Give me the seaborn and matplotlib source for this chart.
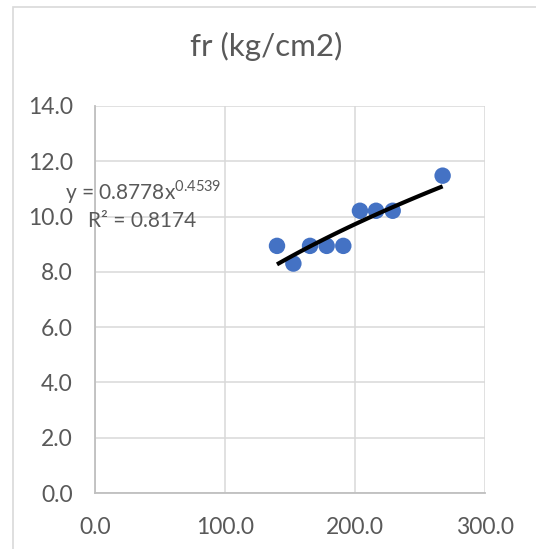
import numpy as np
import pandas as pd
import matplotlib
matplotlib.use("Agg")
import matplotlib.pyplot as plt
import matplotlib.patches as mpatches
import seaborn as sns

# Data
x_vals = [140, 152.6, 165.4, 178.2, 191, 203.8, 216.2, 229, 267.4]
y_vals = [8.94, 8.30, 8.94, 8.94, 8.94, 10.21, 10.21, 10.21, 11.48]
coef_a = 0.8778
coef_b = 0.4539
x_ticks = [0, 100, 200, 300]
y_ticks = [0, 2, 4, 6, 8, 10, 12, 14]
title = "fr (kg/cm2)"
eq_label = r"y = 0.8778x$^{0.4539}$"
r2_label = "R² = 0.8174"

df = pd.DataFrame({"x": x_vals, "y": y_vals})

sns.set_theme(style="white")
plt.rcParams['font.family'] = ['Lato', 'DejaVu Sans']
plt.rcParams['mathtext.fontset'] = 'custom'
plt.rcParams['mathtext.rm'] = 'Lato'

fig = plt.figure(figsize=(5.36, 5.49), dpi=100)
W, H = 536, 549
ax = fig.add_axes([95 / W, 1 - 493 / H, (485 - 95) / W, (493 - 106) / H])

# outer chart border
fig.patches.append(mpatches.Rectangle((13 / W, -0.1), 2, 1 - 7 / H + 0.1,
                                      transform=fig.transFigure, fill=False,
                                      edgecolor="#d9d9d9", linewidth=1.2))

sns.scatterplot(data=df, x="x", y="y", ax=ax, color="#4472C4", s=140,
                edgecolor="none", zorder=3)

# power trendline
xt = np.linspace(min(x_vals), max(x_vals), 100)
ax.plot(xt, coef_a * xt ** coef_b, color="black", linewidth=3, zorder=4,
        solid_capstyle="butt")

ax.set_xlim(0, 300)
ax.set_ylim(0, 14)
ax.set_xticks(x_ticks)
ax.set_yticks(y_ticks)
ax.set_xticklabels([f"{v:.1f}" for v in x_ticks])
ax.set_yticklabels([f"{v:.1f}" for v in y_ticks])
ax.grid(True, color="#d9d9d9", linewidth=1.1)
ax.set_axisbelow(True)
for s in ["top", "right"]:
    ax.spines[s].set_visible(False)
for s in ["left", "bottom"]:
    ax.spines[s].set_color("#bfbfbf")
    ax.spines[s].set_linewidth(1.3)
ax.tick_params(axis="both", length=0, labelsize=16.5, colors="#595959")
ax.tick_params(axis="x", pad=17)
ax.tick_params(axis="y", pad=16)
ax.set_xlabel("")
ax.set_ylabel("")

fig.text(266 / W, 1 - 46 / H, title, ha="center", va="center",
         fontsize=22.5, color="#595959")

fig.text(65 / W, 1 - 192 / H, eq_label, ha="left", va="center",
         fontsize=15, color="#595959")
fig.text(88 / W, 1 - 221 / H, r2_label, ha="left", va="center",
         fontsize=15, color="#595959")

fig.savefig("out.png", dpi=100)
